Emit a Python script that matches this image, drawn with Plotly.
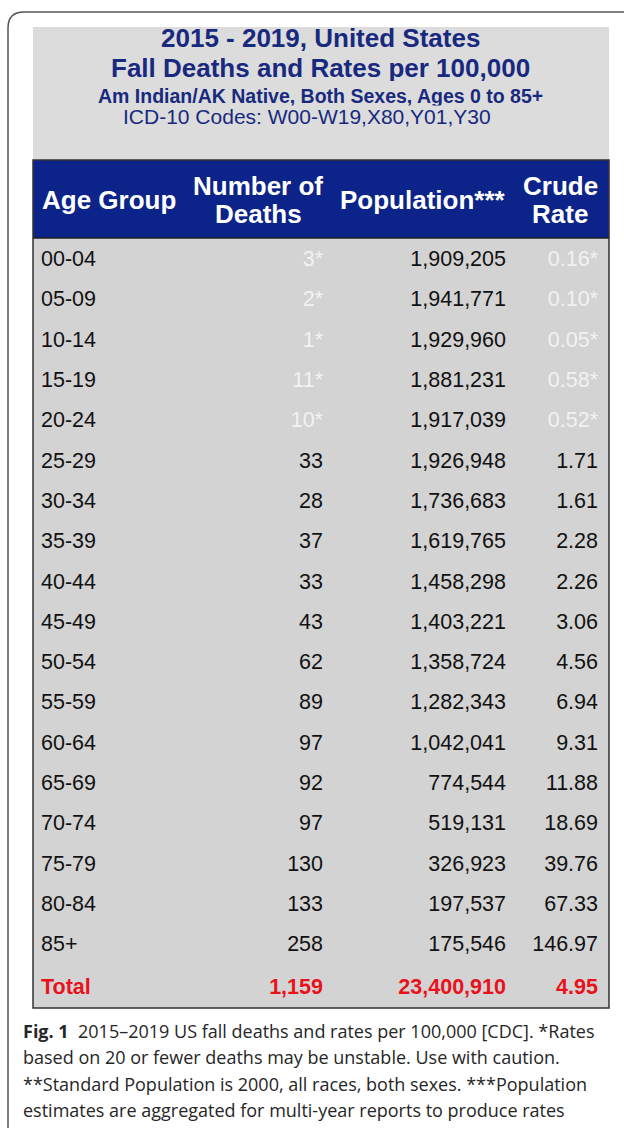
import plotly.graph_objects as go

W, H = 624, 1128

# ---------------- data ----------------
age_groups = ["00-04", "05-09", "10-14", "15-19", "20-24", "25-29", "30-34", "35-39",
              "40-44", "45-49", "50-54", "55-59", "60-64", "65-69", "70-74", "75-79",
              "80-84", "85+"]
deaths = [3, 2, 1, 11, 10, 33, 28, 37, 33, 43, 62, 89, 97, 92, 97, 130, 133, 258]
population = [1909205, 1941771, 1929960, 1881231, 1917039, 1926948, 1736683, 1619765,
              1458298, 1403221, 1358724, 1282343, 1042041, 774544, 519131, 326923,
              197537, 175546]
crude_rate = [0.16, 0.10, 0.05, 0.58, 0.52, 1.71, 1.61, 2.28, 2.26, 3.06, 4.56, 6.94,
              9.31, 11.88, 18.69, 39.76, 67.33, 146.97]
total_label = "Total"
total_deaths = 1159
total_population = 23400910
total_rate = 4.95
column_headers = ["Age Group", "Number of<br>Deaths", "Population***", "Crude<br>Rate"]
unstable_threshold = 20

title_lines = ["2015 - 2019, United States",
               "Fall Deaths and Rates per 100,000",
               "Am Indian/AK Native, Both Sexes, Ages 0 to 85+",
               "ICD-10 Codes: W00-W19,X80,Y01,Y30"]
caption_lines = [
    "<b>Fig. 1</b>\u00a0\u00a02015\u20132019 US fall deaths and rates per 100,000 [CDC]. *Rates",
    "based on 20 or fewer deaths may be unstable. Use with caution.",
    "**Standard Population is 2000, all races, both sexes. ***Population",
    "estimates are aggregated for multi-year reports to produce rates",
]

# ---------------- styles ----------------
NAVY = "#0c2389"
TITLE_BLUE = "#18297f"
TITLE_BG = "#dcdcdc"
BODY_BG = "#d3d3d3"
RED = "#e8121b"
STAR = "#f2f2f2"
BLACK = "#111111"
FONT = "Liberation Sans, Arial, sans-serif"


def px(x):
    return x / W


def py(y):
    return 1 - y / H


# ---------------- build table columns ----------------
col_age, col_d, col_p, col_r = [], [], [], []
c_age, c_d, c_p, c_r = [], [], [], []
for a, d, p, r in zip(age_groups, deaths, population, crude_rate):
    unstable = d <= unstable_threshold
    col_age.append(a)
    col_d.append(f"{d}*" if unstable else f"{d}")
    col_p.append(f"{p:,}")
    col_r.append(f"{r:.2f}*" if unstable else f"{r:.2f}")
    c_age.append(BLACK)
    c_d.append(STAR if unstable else BLACK)
    c_p.append(BLACK)
    c_r.append(STAR if unstable else BLACK)

col_age.append(f"<b>{total_label}</b>")
col_d.append(f"<b>{total_deaths:,}</b>")
col_p.append(f"<b>{total_population:,}</b>")
col_r.append(f"<b>{total_rate:.2f}</b>")
for c in (c_age, c_d, c_p, c_r):
    c.append(RED)

T_LEFT, T_RIGHT, T_TOP, T_BOT = 33, 606, 160, 1012
HEADER_BOTTOM = 238
HEADER_H = 82          # table header region (navy part drawn as a shape up to 238)
ROW_H = 40.3
COL_W = [152, 146, 183, 92]

fig = go.Figure()
fig.add_trace(go.Table(
    domain=dict(x=[px(T_LEFT), px(T_RIGHT)], y=[py(T_BOT), py(T_TOP)]),
    columnwidth=COL_W,
    header=dict(
        values=["" for _ in column_headers],
        fill_color="rgba(0,0,0,0)",
        line_color="rgba(0,0,0,0)",
        line_width=0,
        height=HEADER_H,
    ),
    cells=dict(
        values=[col_age, col_d, col_p, col_r],
        fill_color=BODY_BG,
        line_color=BODY_BG,
        line_width=0,
        align=["left", "right", "right", "right"],
        font=dict(family=FONT, size=21.5, color=[c_age, c_d, c_p, c_r]),
        height=ROW_H,
    ),
))

shapes = []
# outer rounded frame
shapes.append(dict(type="path", xref="paper", yref="paper",
                   path=f"M {px(8)},{py(1140)} L {px(8)},{py(28)} Q {px(8)},{py(12)} {px(24)},{py(12)} L {px(640)},{py(12)}",
                   line=dict(color="#555555", width=1.5), layer="below"))
# title panel
shapes.append(dict(type="rect", xref="paper", yref="paper",
                   x0=px(33), x1=px(609), y0=py(160), y1=py(27),
                   fillcolor=TITLE_BG, line_width=0, layer="below"))
# body background
shapes.append(dict(type="rect", xref="paper", yref="paper",
                   x0=px(33), x1=px(609), y0=py(1008), y1=py(HEADER_BOTTOM),
                   fillcolor=BODY_BG, line_width=0, layer="below"))
# navy header band
shapes.append(dict(type="rect", xref="paper", yref="paper",
                   x0=px(33), x1=px(609), y0=py(HEADER_BOTTOM), y1=py(160),
                   fillcolor=NAVY, line_width=0, layer="below"))
# table border
shapes.append(dict(type="rect", xref="paper", yref="paper",
                   x0=px(33), x1=px(609), y0=py(1008), y1=py(160),
                   line=dict(color="#333333", width=1.5), layer="above"))
shapes.append(dict(type="line", xref="paper", yref="paper",
                   x0=px(33), x1=px(609), y0=py(HEADER_BOTTOM), y1=py(HEADER_BOTTOM),
                   line=dict(color="#222222", width=1.5), layer="above"))

annotations = []
# header labels, centred on each column, each line placed separately
total_w = sum(COL_W)
scale = (T_RIGHT - T_LEFT) / total_w
left = T_LEFT
for label, w in zip(column_headers, COL_W):
    cx = left + w * scale / 2
    left += w * scale
    parts = label.split("<br>")
    ys = [200] if len(parts) == 1 else [185.5, 214]
    for part, yc in zip(parts, ys):
        annotations.append(dict(
            text=f"<b>{part}</b>", xref="paper", yref="paper",
            x=px(cx), y=py(yc), xanchor="center", yanchor="middle", showarrow=False,
            font=dict(family=FONT, size=26, color="white")))

title_specs = [(title_lines[0], 38, 321, 26, True),
               (title_lines[1], 68, 321, 26, True),
               (title_lines[2], 96, 321, 19.5, True),
               (title_lines[3], 117, 307, 21, False)]
for text, yc, xc, size, bold in title_specs:
    annotations.append(dict(
        text=f"<b>{text}</b>" if bold else text,
        xref="paper", yref="paper", x=px(xc), y=py(yc),
        xanchor="center", yanchor="middle", showarrow=False, height=size,
        font=dict(family=FONT, size=size, color=TITLE_BLUE)))

for i, line in enumerate(caption_lines):
    annotations.append(dict(
        text=line, xref="paper", yref="paper", x=px(21), y=py(1031 + 26.4 * i),
        xanchor="left", yanchor="middle", showarrow=False,
        font=dict(family="Open Sans, Noto Sans, sans-serif", size=18, color="#262626")))

fig.update_layout(
    width=W, height=H,
    margin=dict(l=0, r=0, t=0, b=0),
    paper_bgcolor="white", plot_bgcolor="white",
    shapes=shapes, annotations=annotations,
    xaxis=dict(visible=False), yaxis=dict(visible=False),
    showlegend=False,
)

fig.write_html("out.html",
               config={"displayModeBar": False},
               post_script="document.body.style.margin='0';document.body.style.overflow='hidden';")
